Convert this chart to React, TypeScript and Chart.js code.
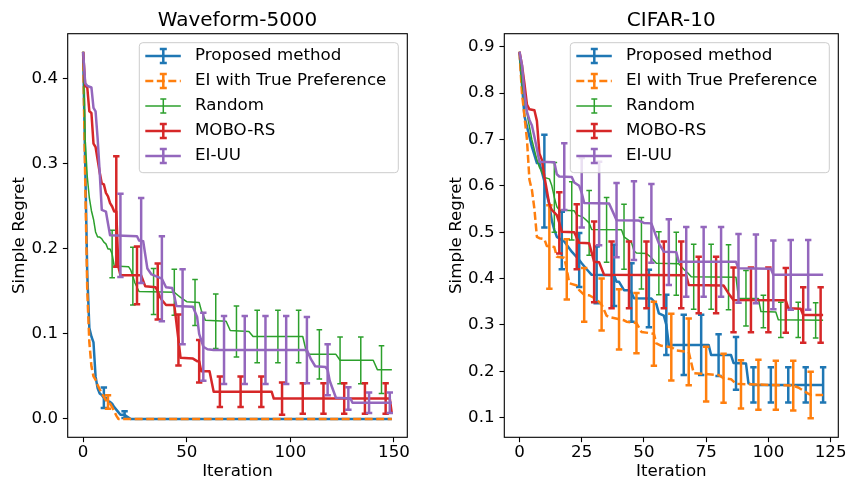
import React, { useEffect, useRef } from "react";
import { Chart, registerables } from "chart.js";
Chart.register(...registerables);

type Pt = [number, number];
type Err = [number, number, number];

const seriesNames = ["Proposed method", "EI with True Preference", "Random", "MOBO-RS", "EI-UU"];
const seriesColors = ["#1f77b4", "#ff7f0e", "#2ca02c", "#d62728", "#9467bd"];

// ---------- Waveform-5000 ----------
const wfTitle = "Waveform-5000";
const wfXTicks = [0, 50, 100, 150];
const wfYTicks = [0.0, 0.1, 0.2, 0.3, 0.4];

const wfProposed: Pt[] = [[0,0.432],[1,0.30],[2,0.17],[3,0.107],[4,0.097],[5,0.09],[6,0.05],[7,0.036],[8,0.03],[9,0.028],[10,0.025],[11,0.025],[12,0.021],[13,0.02],[14,0.018],[15,0.014],[16,0.011],[17,0.008],[18,0.005],[20,0.005],[21,0.003],[23,0],[149,0]];
const wfProposedErr: Err[] = [[10,0.025,0.012],[20,0.005,0.004]];

const wfTruePref: Pt[] = [[0,0.432],[1,0.28],[2,0.15],[3,0.09],[4,0.062],[5,0.05],[6,0.046],[7,0.04],[8,0.035],[9,0.03],[10,0.026],[11,0.022],[12,0.02],[13,0.018],[14,0.014],[15,0.009],[16,0.004],[17,0],[149,0]];
const wfTruePrefErr: Err[] = [[12,0.02,0.008]];

const wfRandom: Pt[] = [[0,0.432],[1,0.328],[2,0.285],[3,0.26],[4,0.245],[5,0.235],[6,0.22],[7,0.214],[8,0.214],[9,0.212],[10,0.208],[11,0.206],[12,0.2],[13,0.2],[14,0.194],[15,0.18],[22,0.179],[23,0.175],[24,0.168],[25,0.16],[26,0.155],[27,0.15],[44,0.149],[46,0.145],[47,0.143],[50,0.138],[56,0.137],[57,0.128],[59,0.116],[69,0.115],[71,0.104],[80,0.103],[82,0.097],[106,0.097],[108,0.076],[122,0.076],[124,0.069],[140,0.069],[142,0.058],[149,0.058]];
const wfRandomErr: Err[] = [[14,0.194,0.028],[24,0.168,0.034],[34,0.15,0.027],[44,0.149,0.027],[54,0.137,0.027],[64,0.115,0.032],[74,0.103,0.03],[84,0.097,0.031],[94,0.097,0.031],[104,0.097,0.031],[114,0.076,0.029],[124,0.069,0.0275],[134,0.069,0.0275],[144,0.058,0.028]];

const wfMoboRs: Pt[] = [[0,0.432],[1,0.392],[2,0.39],[3,0.362],[4,0.36],[5,0.324],[6,0.32],[7,0.305],[8,0.29],[9,0.277],[10,0.276],[11,0.266],[12,0.262],[13,0.254],[14,0.25],[15,0.244],[16,0.244],[17,0.179],[18,0.169],[28,0.169],[30,0.156],[35,0.155],[36,0.15],[37,0.144],[38,0.14],[40,0.134],[44,0.134],[46,0.093],[47,0.072],[53,0.071],[55,0.068],[56,0.068],[57,0.056],[61,0.056],[63,0.032],[91,0.032],[92,0.024],[148,0.024],[149,0.006]];
const wfMoboRsErr: Err[] = [[16,0.244,0.065],[26,0.169,0.034],[36,0.15,0.033],[46,0.093,0.03],[56,0.068,0.025],[66,0.032,0.018],[76,0.032,0.018],[86,0.032,0.018],[96,0.024,0.019],[106,0.024,0.018],[116,0.024,0.018],[126,0.024,0.018],[136,0.024,0.018],[146,0.024,0.018]];

const wfEiUu: Pt[] = [[0,0.432],[1,0.395],[2,0.392],[4,0.39],[5,0.366],[6,0.362],[7,0.33],[8,0.29],[9,0.246],[11,0.244],[12,0.23],[13,0.216],[26,0.215],[27,0.21],[29,0.209],[31,0.177],[33,0.17],[38,0.165],[40,0.155],[43,0.154],[44,0.145],[45,0.133],[53,0.132],[55,0.12],[56,0.1],[58,0.085],[60,0.082],[63,0.081],[108,0.081],[110,0.07],[112,0.062],[117,0.061],[118,0.058],[119,0.045],[122,0.025],[129,0.024],[130,0.019],[149,0.019]];
const wfEiUuErr: Err[] = [[18,0.216,0.049],[28,0.21,0.05],[38,0.165,0.05],[48,0.132,0.044],[58,0.085,0.04],[68,0.081,0.04],[78,0.081,0.04],[88,0.081,0.04],[98,0.081,0.04],[108,0.081,0.039],[118,0.058,0.03],[128,0.024,0.0133],[138,0.019,0.012],[148,0.019,0.012]];

// ---------- CIFAR-10 ----------
const cfTitle = "CIFAR-10";
const cfXTicks = [0, 25, 50, 75, 100, 125];
const cfYTicks = [0.1, 0.2, 0.3, 0.4, 0.5, 0.6, 0.7, 0.8, 0.9];

const cfProposed: Pt[] = [[0,0.889],[1,0.82],[2,0.75],[4,0.706],[5,0.684],[7,0.649],[8,0.649],[9,0.63],[10,0.61],[11,0.58],[12,0.56],[13,0.525],[14,0.505],[15,0.49],[18,0.48],[21,0.458],[24,0.44],[25,0.433],[27,0.42],[29,0.408],[38,0.407],[39,0.393],[40,0.393],[42,0.375],[44,0.375],[45,0.37],[46,0.3575],[53,0.357],[55,0.345],[56,0.325],[58,0.32],[59,0.3],[60,0.257],[76,0.257],[77,0.235],[85,0.235],[86,0.218],[91,0.217],[92,0.174],[94,0.1705],[122,0.1705]];
const cfProposedErr: Err[] = [[10,0.61,0.1],[17,0.482,0.062],[24,0.44,0.058],[31,0.408,0.061],[38,0.407,0.066],[45,0.37,0.063],[52,0.357,0.062],[59,0.3,0.065],[66,0.257,0.065],[73,0.257,0.065],[80,0.235,0.045],[87,0.217,0.057],[94,0.1705,0.038],[101,0.1705,0.038],[108,0.1705,0.038],[115,0.1705,0.038],[122,0.1705,0.038]];

const cfTruePref: Pt[] = [[0,0.889],[1,0.8],[2,0.75],[3,0.7],[4,0.613],[5,0.591],[6,0.55],[7,0.49],[8,0.487],[10,0.485],[11,0.47],[14,0.468],[15,0.447],[18,0.445],[19,0.42],[20,0.39],[23,0.385],[24,0.375],[26,0.365],[28,0.364],[31,0.355],[33,0.344],[35,0.32],[36,0.317],[42,0.31],[43,0.307],[47,0.304],[49,0.285],[54,0.281],[55,0.26],[57,0.255],[61,0.252],[63,0.245],[68,0.242],[70,0.196],[75,0.194],[80,0.192],[82,0.185],[85,0.183],[87,0.173],[110,0.169],[112,0.165],[116,0.152],[117,0.149],[122,0.149]];
const cfTruePrefErr: Err[] = [[12,0.468,0.09],[19,0.42,0.065],[26,0.365,0.058],[33,0.344,0.056],[40,0.312,0.065],[47,0.304,0.065],[54,0.281,0.069],[61,0.252,0.072],[68,0.242,0.072],[75,0.194,0.059],[82,0.185,0.053],[89,0.172,0.052],[96,0.171,0.054],[103,0.17,0.053],[110,0.169,0.0535],[117,0.149,0.05]];

const cfRandom: Pt[] = [[0,0.889],[1,0.82],[3,0.756],[5,0.699],[7,0.656],[8,0.64],[9,0.63],[10,0.618],[12,0.615],[13,0.6],[14,0.575],[15,0.555],[16,0.548],[22,0.546],[23,0.537],[25,0.534],[26,0.53],[28,0.52],[29,0.506],[41,0.505],[42,0.49],[45,0.478],[46,0.46],[47,0.455],[51,0.454],[53,0.445],[55,0.433],[64,0.432],[66,0.42],[68,0.41],[69,0.404],[87,0.403],[88,0.3575],[96,0.357],[97,0.329],[103,0.328],[104,0.311],[122,0.31]];
const cfRandomErr: Err[] = [[14,0.575,0.075],[21,0.546,0.063],[28,0.52,0.07],[35,0.505,0.07],[42,0.49,0.07],[49,0.4545,0.077],[56,0.433,0.068],[63,0.432,0.068],[70,0.404,0.07],[77,0.404,0.07],[84,0.403,0.07],[91,0.3575,0.06],[98,0.329,0.035],[105,0.311,0.038],[112,0.311,0.038],[119,0.31,0.038]];

const cfMoboRs: Pt[] = [[0,0.889],[1,0.86],[2,0.82],[3,0.775],[4,0.765],[6,0.763],[7,0.74],[8,0.67],[9,0.656],[10,0.62],[11,0.59],[12,0.56],[13,0.548],[15,0.537],[16,0.52],[17,0.501],[22,0.5],[24,0.477],[28,0.476],[30,0.436],[32,0.435],[34,0.408],[67,0.407],[68,0.386],[82,0.385],[84,0.368],[86,0.354],[107,0.353],[108,0.336],[113,0.335],[114,0.3215],[122,0.3215]];
const cfMoboRsErr: Err[] = [[16,0.52,0.066],[23,0.49,0.07],[30,0.436,0.087],[37,0.408,0.072],[44,0.408,0.072],[51,0.408,0.072],[58,0.408,0.072],[65,0.408,0.072],[72,0.386,0.061],[79,0.386,0.061],[86,0.354,0.07],[93,0.354,0.07],[100,0.354,0.07],[107,0.353,0.07],[114,0.3215,0.06],[121,0.3215,0.06]];

const cfEiUu: Pt[] = [[0,0.889],[1,0.86],[2,0.8],[3,0.76],[4,0.742],[5,0.73],[6,0.706],[7,0.68],[8,0.652],[14,0.651],[15,0.625],[16,0.62],[21,0.619],[22,0.607],[24,0.6],[25,0.585],[26,0.563],[36,0.562],[37,0.55],[39,0.526],[48,0.525],[50,0.52],[53,0.519],[55,0.49],[56,0.476],[58,0.458],[63,0.457],[64,0.436],[87,0.436],[88,0.422],[101,0.421],[102,0.408],[122,0.408]];
const cfEiUuErr: Err[] = [[18,0.62,0.072],[25,0.585,0.075],[32,0.562,0.09],[39,0.526,0.08],[46,0.525,0.085],[53,0.519,0.085],[60,0.457,0.071],[67,0.436,0.075],[74,0.436,0.075],[81,0.436,0.075],[88,0.422,0.074],[95,0.421,0.074],[102,0.408,0.074],[109,0.408,0.075],[116,0.408,0.075]];

const FONT = "'DejaVu Sans', 'Liberation Sans', sans-serif";
const LW_THICK = 2.5;
const LW_THIN = 1.5;

function buildDatasets(lines: Pt[][], errs: Err[][]) {
  return lines.map((pts, i) => ({
    label: seriesNames[i],
    data: pts.map(([x, y]) => ({ x, y })),
    borderColor: seriesColors[i],
    backgroundColor: seriesColors[i],
    borderWidth: i === 2 ? LW_THIN : LW_THICK,
    borderDash: i === 1 ? [8, 3.5] : [],
    borderJoinStyle: "round",
    pointRadius: 0,
    pointHoverRadius: 0,
    tension: 0,
    fill: false,
    order: 5 - i,
    errorBars: errs[i],
  }));
}

const errorBarPlugin = {
  id: "mplErrorBars",
  afterDatasetDraw(chart: any, args: any) {
    const ds = chart.data.datasets[args.index];
    const bars: Err[] = ds.errorBars || [];
    const ctx = chart.ctx;
    const xs = chart.scales.x;
    const ys = chart.scales.y;
    const a = chart.chartArea;
    ctx.save();
    ctx.beginPath();
    ctx.rect(a.left, a.top, a.right - a.left, a.bottom - a.top);
    ctx.clip();
    ctx.strokeStyle = ds.borderColor;
    ctx.lineWidth = ds.borderWidth;
    ctx.setLineDash([]);
    ctx.lineCap = "butt";
    const cap = ds.borderWidth < 2 ? 2.8 : 3.2;
    for (const [x, m, d] of bars) {
      if (d <= 0) continue;
      const px = xs.getPixelForValue(x);
      const p1 = ys.getPixelForValue(m - d);
      const p2 = ys.getPixelForValue(m + d);
      ctx.beginPath();
      ctx.moveTo(px, p1);
      ctx.lineTo(px, p2);
      ctx.moveTo(px - cap, p1);
      ctx.lineTo(px + cap, p1);
      ctx.moveTo(px - cap, p2);
      ctx.lineTo(px + cap, p2);
      ctx.stroke();
    }
    ctx.restore();
  },
};

const framePlugin = {
  id: "mplFrame",
  afterDatasetsDraw(chart: any) {
    const a = chart.chartArea;
    const ctx = chart.ctx;
    ctx.save();
    ctx.strokeStyle = "#000";
    ctx.lineWidth = 1.1;
    ctx.setLineDash([]);
    ctx.strokeRect(a.left, a.top, a.right - a.left, a.bottom - a.top);
    ctx.restore();
  },
};

const legendPlugin = {
  id: "mplLegend",
  afterDraw(chart: any) {
    const a = chart.chartArea;
    const ctx = chart.ctx;
    const w = 259;
    const h = 130;
    const left = a.right - 9 - w;
    const top = a.top + 9;
    ctx.save();
    const r = 3.5;
    ctx.beginPath();
    ctx.moveTo(left + r, top);
    ctx.lineTo(left + w - r, top);
    ctx.arcTo(left + w, top, left + w, top + r, r);
    ctx.lineTo(left + w, top + h - r);
    ctx.arcTo(left + w, top + h, left + w - r, top + h, r);
    ctx.lineTo(left + r, top + h);
    ctx.arcTo(left, top + h, left, top + h - r, r);
    ctx.lineTo(left, top + r);
    ctx.arcTo(left, top, left + r, top, r);
    ctx.closePath();
    ctx.fillStyle = "rgba(255,255,255,0.8)";
    ctx.fill();
    ctx.strokeStyle = "#cccccc";
    ctx.lineWidth = 1;
    ctx.stroke();
    chart.data.datasets.forEach((ds: any, i: number) => {
      const cy = top + 13.3 + 25 * i;
      const x1 = left + 6;
      const x2 = left + 41.5;
      const cx = left + 24;
      ctx.strokeStyle = ds.borderColor;
      ctx.lineWidth = ds.borderWidth;
      ctx.lineCap = "butt";
      ctx.setLineDash(ds.borderDash || []);
      ctx.beginPath();
      ctx.moveTo(x1, cy);
      ctx.lineTo(x2, cy);
      ctx.stroke();
      ctx.setLineDash([]);
      const cap = ds.borderWidth < 2 ? 3 : 3.5;
      ctx.beginPath();
      ctx.moveTo(cx, cy - 7);
      ctx.lineTo(cx, cy + 7);
      ctx.moveTo(cx - cap, cy - 7);
      ctx.lineTo(cx + cap, cy - 7);
      ctx.moveTo(cx - cap, cy + 7);
      ctx.lineTo(cx + cap, cy + 7);
      ctx.stroke();
      ctx.fillStyle = "#000";
      ctx.font = `16.67px ${FONT}`;
      ctx.textBaseline = "middle";
      ctx.textAlign = "left";
      ctx.fillText(ds.label, left + 55.7, cy);
    });
    ctx.restore();
  },
};

function makeConfig(opts: {
  title: string;
  lines: Pt[][];
  errs: Err[][];
  xMin: number; xMax: number; yMin: number; yMax: number;
  xTicks: number[]; yTicks: number[];
  yAxisWidth: number; padRight: number; yTitlePad: number;
}): any {
  const tickFont = { family: FONT, size: 16.67, lineHeight: 1 };
  return {
    type: "line",
    data: { datasets: buildDatasets(opts.lines, opts.errs) },
    options: {
      animation: false,
      responsive: false,
      devicePixelRatio: 1,
      events: [],
      layout: { padding: { left: 0, right: opts.padRight, top: 0, bottom: 0 } },
      plugins: {
        legend: { display: false },
        tooltip: { enabled: false },
        title: {
          display: true,
          text: opts.title,
          color: "#000",
          fullSize: false,
          font: { family: FONT, size: 20, weight: "normal", lineHeight: 1.2 },
          padding: { top: 8.4, bottom: 1.3 },
        },
      },
      scales: {
        x: {
          type: "linear",
          min: opts.xMin,
          max: opts.xMax,
          afterBuildTicks: (ax: any) => { ax.ticks = opts.xTicks.map((v) => ({ value: v })); },
          afterFit: (s: any) => { s.height = 44.7; },
          grid: { display: true, drawOnChartArea: false, drawTicks: true, tickLength: 4.86, tickWidth: 1.1, tickColor: "#000" },
          border: { display: false },
          ticks: { font: tickFont, color: "#000", padding: 2, maxRotation: 0, autoSkip: false, callback: (v: number) => String(v) },
          title: { display: true, text: "Iteration", color: "#000", font: { family: FONT, size: 16.67, lineHeight: 1.2 }, padding: { top: 0, bottom: 0 } },
        },
        y: {
          type: "linear",
          min: opts.yMin,
          max: opts.yMax,
          afterBuildTicks: (ax: any) => { ax.ticks = opts.yTicks.map((v) => ({ value: v })); },
          afterFit: (s: any) => { s.width = opts.yAxisWidth; },
          grid: { display: true, drawOnChartArea: false, drawTicks: true, tickLength: 4.86, tickWidth: 1.1, tickColor: "#000" },
          border: { display: false },
          ticks: { font: tickFont, color: "#000", padding: 4.86, autoSkip: false, callback: (v: number) => v.toFixed(1) },
          title: { display: true, text: "Simple Regret", color: "#000", font: { family: FONT, size: 16.67, lineHeight: 1.2 }, padding: { top: opts.yTitlePad, bottom: 0 } },
        },
      },
    },
    plugins: [errorBarPlugin, framePlugin, legendPlugin],
  };
}

export default function App() {
  const leftRef = useRef<HTMLCanvasElement>(null);
  const rightRef = useRef<HTMLCanvasElement>(null);

  useEffect(() => {
    const c1 = new Chart(leftRef.current!, makeConfig({
      title: wfTitle,
      lines: [wfProposed, wfTruePref, wfRandom, wfMoboRs, wfEiUu],
      errs: [wfProposedErr, wfTruePrefErr, wfRandomErr, wfMoboRsErr, wfEiUuErr],
      xMin: -7.45, xMax: 156.45, yMin: -0.0216, yMax: 0.4533,
      xTicks: wfXTicks, yTicks: wfYTicks,
      yAxisWidth: 67.7, padRight: 17.7, yTitlePad: 10,
    }));
    const c2 = new Chart(rightRef.current!, makeConfig({
      title: cfTitle,
      lines: [cfProposed, cfTruePref, cfRandom, cfMoboRs, cfEiUu],
      errs: [cfProposedErr, cfTruePrefErr, cfRandomErr, cfMoboRsErr, cfEiUuErr],
      xMin: -6.1, xMax: 128.1, yMin: 0.0577, yMax: 0.928,
      xTicks: cfXTicks, yTicks: cfYTicks,
      yAxisWidth: 79.3, padRight: 11.7, yTitlePad: 22,
    }));
    return () => { c1.destroy(); c2.destroy(); };
  }, []);

  return (
    <div style={{ position: "absolute", left: 0, top: 0, width: 850, height: 482, background: "#fff" }}>
      <canvas ref={leftRef} width={425} height={482} style={{ position: "absolute", left: 0, top: 0 }} />
      <canvas ref={rightRef} width={425} height={482} style={{ position: "absolute", left: 425, top: 0 }} />
    </div>
  );
}
